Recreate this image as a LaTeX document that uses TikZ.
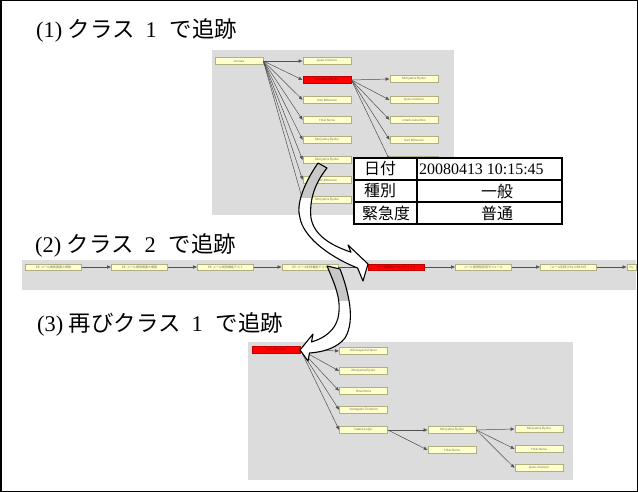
\documentclass[tikz,border=0pt]{standalone}
\usepackage{fontspec}
\setmainfont{Liberation Serif}
\newfontfamily\jp{Noto Sans CJK JP}
\newfontfamily\tinyfont{Liberation Sans}
\usetikzlibrary{arrows.meta}
\definecolor{bggray}{RGB}{220,220,220}
\definecolor{nodeyellow}{RGB}{255,255,204}
\definecolor{nodeedge}{RGB}{175,175,130}
\definecolor{edgegray}{RGB}{80,80,80}
\definecolor{ribbongray}{RGB}{200,200,200}
\tikzset{
  gnode/.style={draw=nodeedge, fill=nodeyellow, line width=0.7bp, minimum width=48bp,
    minimum height=7bp, inner sep=0pt, text=black!55,
    font=\tinyfont\fontsize{3.2}{3.5}\selectfont},
  snode/.style={gnode, minimum width=56bp, minimum height=6bp, font=\jp\fontsize{3}{3.3}\selectfont},
  rnode/.style={fill=red, draw=red!75!black, text=red!40!black},
  gedge/.style={draw=edgegray, line width=0.5bp, -{Latex[length=4bp,width=3.5bp]}},
  titletext/.style={anchor=base west, inner sep=0pt, font=\fontsize{22.5}{24}\selectfont},
  celltext/.style={inner sep=0pt, font=\fontsize{16}{18}\selectfont},
  ribbon/.style={draw=black, line width=1.1bp, line join=round},
}
\def\ribbonA{(318,163) .. controls (303,185) and (296,205) .. (300,218)
  .. controls (303,235) and (325,255) .. (357.6,268) -- (363,281) -- (368,264)
  -- (348,245) -- (351,252.2) .. controls (330,245) and (314,235) .. (311,218)
  .. controls (309,200) and (315,183) .. (327,168) -- cycle}
\def\ribbonB{(340,269) .. controls (348,290) and (356,320) .. (345,338)
  .. controls (338,347) and (325,352) .. (309.5,353) -- (308,361) -- (300,350)
  -- (313,334) -- (311.5,342) .. controls (325,338) and (335,330) .. (338,318)
  .. controls (342,300) and (335,285) .. (327,266) -- cycle}
\begin{document}
\begin{tikzpicture}[x=1bp,y=-1bp]
\useasboundingbox (0,0) rectangle (638,492);
\fill[white] (0,0) rectangle (638,492);

% ---------- graph 1 ----------
\fill[bggray] (212,50) rectangle (454,215);
\node[gnode] (a0) at (239,61) {t-hoiiaa};
\node[gnode] (b1) at (327,61) {sjoeo-mamoru};
\node[gnode,rnode] (b2) at (327,80) {Moriyama.Ryoko};
\node[gnode] (b3) at (327,100) {Kari.Mitsunari};
\node[gnode] (b4) at (327,120) {Hirai.Noria};
\node[gnode] (b5) at (327,140) {Moriyama.Ryoko};
\node[gnode] (b6) at (327,160) {Moriyama.Ryoko};
\node[gnode] (b7) at (327,180) {Kari.Mitsunari};
\node[gnode] (b8) at (327,200) {Moriyama.Ryoko};
\node[gnode] (c1) at (414,79) {Moriyama.Ryoko};
\node[gnode] (c2) at (414,100) {sjoeo-mamoru};
\node[gnode] (c3) at (414,120) {omafe-katsuhiko};
\node[gnode] (c4) at (414,140) {Kari.Mitsunari};
\node[gnode] (c5) at (414,160) {Hirai.Noria};
\foreach \i in {1,...,8} {\draw[gedge] (a0.east) -- (b\i.west);}
\foreach \i in {1,...,5} {\draw[gedge] (b2.east) -- (c\i.west);}

% ---------- graph 2 (strip) ----------
\fill[bggray] (22,260) rectangle (636,290);
\node[snode] (s1) at (53.5,267) {RE: メール検索画面の情報};
\node[snode] (s2) at (139.5,267) {RE: メール検索画面の情報};
\node[snode] (s3) at (225.5,267) {RE: メール削除機能テスト};
\node[snode] (s4) at (310,267) {RE: メール削除機能テスト};
\node[snode,rnode] (s5) at (396.5,267) {データ更新ツールのチェック};
\node[snode] (s6) at (483.5,267) {メール整理削除用モジュール};
\node[snode] (s7) at (568.5,267) {[メール削除] FD1-DB2の件};
\node[snode, minimum width=9bp] (s8) at (631.5,267) {Re};
\foreach \i/\j in {1/2,2/3,3/4,4/5,5/6,6/7,7/8} {\draw[gedge] (s\i.east) -- (s\j.west);}

% ---------- graph 3 ----------
\fill[bggray] (248,342) rectangle (573,480);
\node[gnode,rnode] (r0) at (276,349.5) {Kari.Mitsunari};
\node[gnode] (d1) at (363.5,351) {Wirubayashi.Haruo};
\node[gnode] (d2) at (363.5,371) {Moriyama.Ryoko};
\node[gnode] (d3) at (363.5,391) {Hirai.Noria};
\node[gnode] (d4) at (363.5,410) {Yamagishi.Toshinori};
\node[gnode] (d5) at (363.5,430) {katsura-eigo};
\node[gnode] (e1) at (452,430) {Moriyama.Ryoko};
\node[gnode] (e2) at (452,450) {Hirai.Noria};
\node[gnode] (f1) at (539,429) {Moriyama.Ryoko};
\node[gnode] (f2) at (539,449) {Hirai.Noria};
\node[gnode] (f3) at (539,468) {sjoeo-mamoru};
\foreach \i in {1,...,5} {\draw[gedge] (r0.east) -- (d\i.west);}
\foreach \i in {1,2} {\draw[gedge] (d5.east) -- (e\i.west);}
\foreach \i in {1,2,3} {\draw[gedge] (e1.east) -- (f\i.west);}

% ---------- table ----------
\draw[line width=1.5bp, fill=white] (354,158) rectangle (562,224);
\draw[line width=1.5bp] (354,180) -- (562,180) (354,202) -- (562,202) (417,158) -- (417,224);
\node[celltext, anchor=west] (k1) at (364,169) {\jp 日付};
\node[celltext, anchor=west] (v1) at (419,169) {20080413 10:15:45};
\node[celltext, anchor=west] (k2) at (364,191) {\jp 種別};
\node[celltext] (v2) at (497,191) {\jp 一般};
\node[celltext, anchor=west] (k3) at (362,213) {\jp 緊急度};
\node[celltext] (v3) at (497,213) {\jp 普通};

% ---------- ribbon arrows ----------
\fill[white] \ribbonA;
\begin{scope}\clip (0,0) rectangle (638,198); \fill[ribbongray] \ribbonA; \end{scope}
\path[ribbon] \ribbonA;
\fill[white] \ribbonB;
\begin{scope}\clip (0,0) rectangle (638,300); \fill[ribbongray] \ribbonB; \end{scope}
\path[ribbon] \ribbonB;

% ---------- titles ----------
\node[titletext] (t1) at (36,38) {(1) {\jp クラス}\hspace{11bp}1\hspace{13bp}{\jp で追跡}};
\node[titletext] (t2) at (35,253) {(2) {\jp クラス}\hspace{11bp}2\hspace{13bp}{\jp で追跡}};
\node[titletext] (t3) at (37,331) {(3) {\jp 再びクラス}\hspace{11bp}1\hspace{13bp}{\jp で追跡}};

% ---------- frame ----------
\draw[line width=1.5bp] (0.75,0.75) rectangle (637.25,491.25);
\end{tikzpicture}
\end{document}
